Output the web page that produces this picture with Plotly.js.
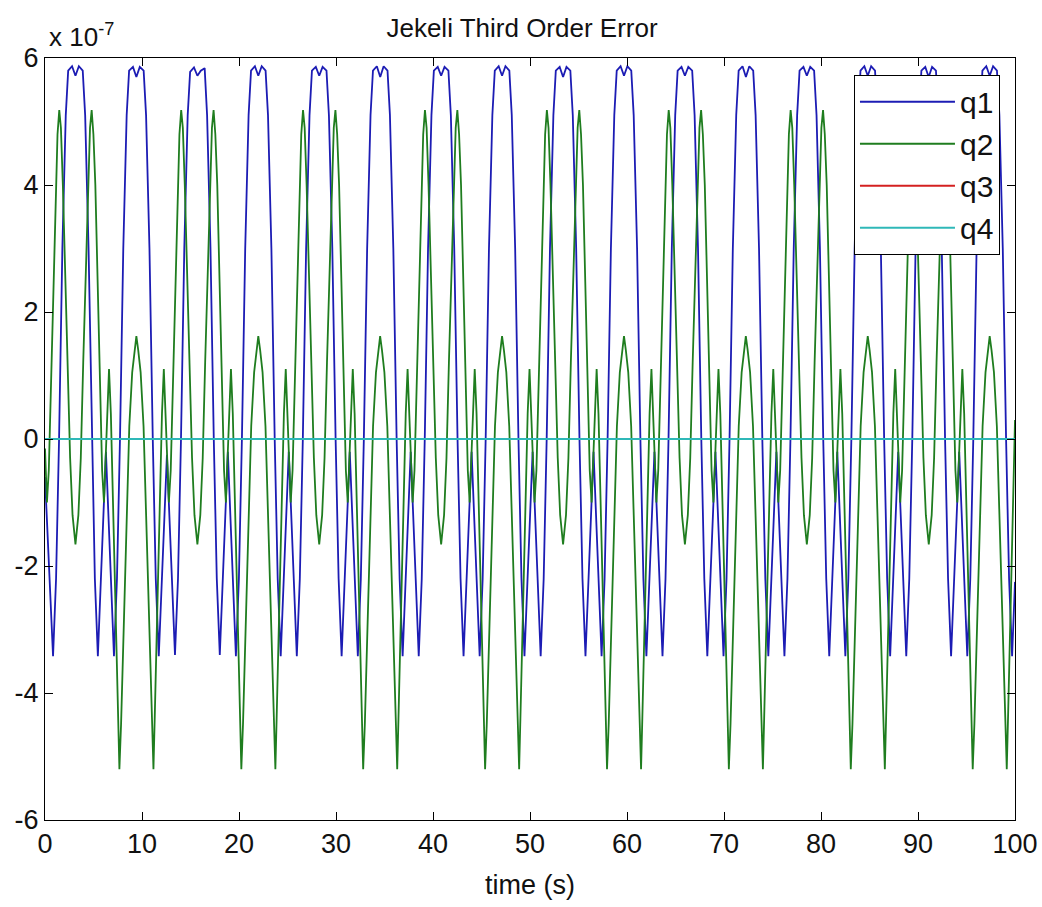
<!DOCTYPE html>
<html>
<head>
<meta charset="utf-8">
<script src="https://cdn.plot.ly/plotly-3.0.1.min.js"></script>
<style>html,body{margin:0;padding:0;background:#fff;}#chart{width:1042px;height:907px;}</style>
</head>
<body>
<div id="chart"></div>
<script>
// values are in units of 1e-7 (axis shows "x 10^-7")
const q1Time = [
0, 0.83, 1.14, 1.45, 1.79, 2.14, 2.39, 2.79, 3.14, 3.49, 3.89, 4.14, 4.49, 4.83, 5.14, 5.45,
6.28, 7.11, 7.42, 7.73, 8.07, 8.42, 8.67, 9.07, 9.42, 9.77, 10.17, 10.42, 10.77, 11.11, 11.42, 11.73,
12.57, 13.40, 13.71, 14.02, 14.36, 14.71, 14.96, 15.36, 15.71, 16.06, 16.46, 16.71, 17.06, 17.40, 17.71, 18.02,
18.85, 19.68, 19.99, 20.30, 20.64, 20.99, 21.24, 21.64, 21.99, 22.34, 22.74, 22.99, 23.34, 23.68, 23.99, 24.30,
25.13, 25.96, 26.27, 26.58, 26.92, 27.27, 27.52, 27.92, 28.27, 28.62, 29.02, 29.27, 29.62, 29.96, 30.27, 30.58,
31.42, 32.25, 32.56, 32.87, 33.21, 33.56, 33.81, 34.21, 34.56, 34.91, 35.31, 35.56, 35.91, 36.25, 36.56, 36.87,
37.70, 38.53, 38.84, 39.15, 39.49, 39.84, 40.09, 40.49, 40.84, 41.19, 41.59, 41.84, 42.19, 42.53, 42.84, 43.15,
43.98, 44.81, 45.12, 45.43, 45.77, 46.12, 46.37, 46.77, 47.12, 47.47, 47.87, 48.12, 48.47, 48.81, 49.12, 49.43,
50.27, 51.10, 51.41, 51.72, 52.06, 52.41, 52.66, 53.06, 53.41, 53.76, 54.16, 54.41, 54.76, 55.10, 55.41, 55.72,
56.55, 57.38, 57.69, 58.00, 58.34, 58.69, 58.94, 59.34, 59.69, 60.04, 60.44, 60.69, 61.04, 61.38, 61.69, 62.00,
62.83, 63.66, 63.97, 64.28, 64.62, 64.97, 65.22, 65.62, 65.97, 66.32, 66.72, 66.97, 67.32, 67.66, 67.97, 68.28,
69.12, 69.95, 70.26, 70.57, 70.91, 71.26, 71.51, 71.91, 72.26, 72.61, 73.01, 73.26, 73.61, 73.95, 74.26, 74.57,
75.40, 76.23, 76.54, 76.85, 77.19, 77.54, 77.79, 78.19, 78.54, 78.89, 79.29, 79.54, 79.89, 80.23, 80.54, 80.85,
81.68, 82.51, 82.82, 83.13, 83.47, 83.82, 84.07, 84.47, 84.82, 85.17, 85.57, 85.82, 86.17, 86.51, 86.82, 87.13,
87.96, 88.79, 89.10, 89.41, 89.75, 90.10, 90.35, 90.75, 91.10, 91.45, 91.85, 92.10, 92.45, 92.79, 93.10, 93.41,
94.25, 95.08, 95.39, 95.70, 96.04, 96.39, 96.64, 97.04, 97.39, 97.74, 98.14, 98.39, 98.74, 99.08, 99.39, 99.70,
100
];
const q1Value = [
-0.6, -3.42, -2.2, 0, 3.0, 5.1, 5.8, 5.87, 5.72, 5.87, 5.8, 5.1, 3.0, 0, -2.2, -3.42,
-0.2, -3.42, -2.2, 0, 3.0, 5.1, 5.8, 5.86, 5.7, 5.86, 5.8, 5.1, 3.0, 0, -2.2, -3.42,
-0.25, -3.4, -2.2, 0, 3.0, 5.1, 5.78, 5.85, 5.72, 5.8, 5.84, 5.1, 3.0, 0, -2.2, -3.4,
-0.2, -3.42, -2.2, 0, 3.0, 5.1, 5.8, 5.87, 5.72, 5.87, 5.8, 5.1, 3.0, 0, -2.2, -3.42,
-0.2, -3.42, -2.2, 0, 3.0, 5.1, 5.8, 5.86, 5.72, 5.86, 5.8, 5.1, 3.0, 0, -2.2, -3.42,
-0.2, -3.42, -2.2, 0, 3.0, 5.1, 5.8, 5.87, 5.7, 5.87, 5.8, 5.1, 3.0, 0, -2.2, -3.42,
-0.2, -3.42, -2.2, 0, 3.0, 5.1, 5.8, 5.86, 5.72, 5.86, 5.8, 5.1, 3.0, 0, -2.2, -3.42,
-0.2, -3.42, -2.2, 0, 3.0, 5.1, 5.8, 5.87, 5.72, 5.87, 5.8, 5.1, 3.0, 0, -2.2, -3.42,
-0.2, -3.42, -2.2, 0, 3.0, 5.1, 5.8, 5.86, 5.7, 5.86, 5.8, 5.1, 3.0, 0, -2.2, -3.42,
-0.2, -3.42, -2.2, 0, 3.0, 5.1, 5.8, 5.87, 5.72, 5.87, 5.8, 5.1, 3.0, 0, -2.2, -3.42,
-0.2, -3.42, -2.2, 0, 3.0, 5.1, 5.8, 5.86, 5.72, 5.86, 5.8, 5.1, 3.0, 0, -2.2, -3.42,
-0.2, -3.42, -2.2, 0, 3.0, 5.1, 5.8, 5.87, 5.7, 5.87, 5.8, 5.1, 3.0, 0, -2.2, -3.42,
-0.2, -3.42, -2.2, 0, 3.0, 5.1, 5.8, 5.86, 5.72, 5.86, 5.8, 5.1, 3.0, 0, -2.2, -3.42,
-0.2, -3.42, -2.2, 0, 3.0, 5.1, 5.8, 5.87, 5.72, 5.87, 5.8, 5.1, 3.0, 0, -2.2, -3.42,
-0.2, -3.42, -2.2, 0, 3.0, 5.1, 5.8, 5.86, 5.7, 5.86, 5.8, 5.1, 3.0, 0, -2.2, -3.42,
-0.2, -3.42, -2.2, 0, 3.0, 5.1, 5.8, 5.87, 5.72, 5.87, 5.8, 5.1, 3.0, 0, -2.2, -3.42,
-2.25
];
const q2Time = [
0, 0.20, 0.39, 0.59, 1.09, 1.29, 1.47, 1.64, 1.84, 2.34, 2.59, 2.84, 3.14, 3.44, 3.69, 3.94, 4.44, 4.64, 4.81, 4.99, 5.19, 5.69, 5.89, 6.08, 6.34, 6.60, 6.79, 7.39, 7.54, 7.67, 7.84, 8.44, 8.69, 8.99, 9.24, 9.42, 9.61, 9.86, 10.16, 10.41, 11.01, 11.18, 11.31, 11.46, 12.06, 12.25, 12.51,
12.57, 12.77, 12.96, 13.16, 13.66, 13.86, 14.04, 14.21, 14.41, 14.91, 15.16, 15.41, 15.71, 16.01, 16.26, 16.51, 17.01, 17.21, 17.38, 17.56, 17.76, 18.26, 18.46, 18.65, 18.91, 19.17, 19.36, 19.96, 20.11, 20.24, 20.41, 21.01, 21.26, 21.56, 21.81, 21.99, 22.18, 22.43, 22.73, 22.98, 23.58, 23.75, 23.88, 24.03, 24.63, 24.82, 25.08,
25.13, 25.33, 25.52, 25.72, 26.22, 26.42, 26.60, 26.77, 26.97, 27.47, 27.72, 27.97, 28.27, 28.57, 28.82, 29.07, 29.57, 29.77, 29.94, 30.12, 30.32, 30.82, 31.02, 31.21, 31.47, 31.73, 31.92, 32.52, 32.67, 32.80, 32.97, 33.57, 33.82, 34.12, 34.37, 34.55, 34.74, 34.99, 35.29, 35.54, 36.14, 36.31, 36.44, 36.59, 37.19, 37.38, 37.64,
37.70, 37.90, 38.09, 38.29, 38.79, 38.99, 39.17, 39.34, 39.54, 40.04, 40.29, 40.54, 40.84, 41.14, 41.39, 41.64, 42.14, 42.34, 42.51, 42.69, 42.89, 43.39, 43.59, 43.78, 44.04, 44.30, 44.49, 45.09, 45.24, 45.37, 45.54, 46.14, 46.39, 46.69, 46.94, 47.12, 47.31, 47.56, 47.86, 48.11, 48.71, 48.88, 49.01, 49.16, 49.76, 49.95, 50.21,
50.27, 50.47, 50.66, 50.86, 51.36, 51.56, 51.74, 51.91, 52.11, 52.61, 52.86, 53.11, 53.41, 53.71, 53.96, 54.21, 54.71, 54.91, 55.08, 55.26, 55.46, 55.96, 56.16, 56.35, 56.61, 56.87, 57.06, 57.66, 57.81, 57.94, 58.11, 58.71, 58.96, 59.26, 59.51, 59.69, 59.88, 60.13, 60.43, 60.68, 61.28, 61.45, 61.58, 61.73, 62.33, 62.52, 62.78,
62.83, 63.03, 63.22, 63.42, 63.92, 64.12, 64.30, 64.47, 64.67, 65.17, 65.42, 65.67, 65.97, 66.27, 66.52, 66.77, 67.27, 67.47, 67.64, 67.82, 68.02, 68.52, 68.72, 68.91, 69.17, 69.43, 69.62, 70.22, 70.37, 70.50, 70.67, 71.27, 71.52, 71.82, 72.07, 72.25, 72.44, 72.69, 72.99, 73.24, 73.84, 74.01, 74.14, 74.29, 74.89, 75.08, 75.34,
75.40, 75.60, 75.79, 75.99, 76.49, 76.69, 76.87, 77.04, 77.24, 77.74, 77.99, 78.24, 78.54, 78.84, 79.09, 79.34, 79.84, 80.04, 80.21, 80.39, 80.59, 81.09, 81.29, 81.48, 81.74, 82.00, 82.19, 82.79, 82.94, 83.07, 83.24, 83.84, 84.09, 84.39, 84.64, 84.82, 85.01, 85.26, 85.56, 85.81, 86.41, 86.58, 86.71, 86.86, 87.46, 87.65, 87.91,
87.97, 88.17, 88.36, 88.56, 89.06, 89.26, 89.44, 89.61, 89.81, 90.31, 90.56, 90.81, 91.11, 91.41, 91.66, 91.91, 92.41, 92.61, 92.78, 92.96, 93.16, 93.66, 93.86, 94.05, 94.31, 94.57, 94.76, 95.36, 95.51, 95.64, 95.81, 96.41, 96.66, 96.96, 97.21, 97.39, 97.58, 97.83, 98.13, 98.38, 98.98, 99.15, 99.28, 99.43,
100
];
const q2Value = [
-0.15, -1.0, -0.5, 0.7, 4.0, 4.8, 5.18, 4.9, 4.0, 1.2, -0.3, -1.2, -1.66, -1.2, -0.3, 1.2, 4.0, 4.9, 5.18, 4.8, 4.0, 0.7, -0.5, -1.0, 0.0, 1.1, 0.4, -3.4, -4.4, -5.2, -4.5, -1.2, 0.2, 1.05, 1.4, 1.62, 1.4, 1.05, 0.2, -1.2, -4.5, -5.2, -4.4, -3.4, 0.4, 1.1, 0.0,
-0.15, -1.0, -0.5, 0.7, 4.0, 4.8, 5.18, 4.9, 4.0, 1.2, -0.3, -1.2, -1.66, -1.2, -0.3, 1.2, 4.0, 4.9, 5.18, 4.8, 4.0, 0.7, -0.5, -1.0, 0.0, 1.1, 0.4, -3.4, -4.4, -5.2, -4.5, -1.2, 0.2, 1.05, 1.4, 1.62, 1.4, 1.05, 0.2, -1.2, -4.5, -5.2, -4.4, -3.4, 0.4, 1.1, 0.0,
-0.15, -1.0, -0.5, 0.7, 4.0, 4.8, 5.18, 4.9, 4.0, 1.2, -0.3, -1.2, -1.66, -1.2, -0.3, 1.2, 4.0, 4.9, 5.18, 4.8, 4.0, 0.7, -0.5, -1.0, 0.0, 1.1, 0.4, -3.4, -4.4, -5.2, -4.5, -1.2, 0.2, 1.05, 1.4, 1.62, 1.4, 1.05, 0.2, -1.2, -4.5, -5.2, -4.4, -3.4, 0.4, 1.1, 0.0,
-0.15, -1.0, -0.5, 0.7, 4.0, 4.8, 5.18, 4.9, 4.0, 1.2, -0.3, -1.2, -1.66, -1.2, -0.3, 1.2, 4.0, 4.9, 5.18, 4.8, 4.0, 0.7, -0.5, -1.0, 0.0, 1.1, 0.4, -3.4, -4.4, -5.2, -4.5, -1.2, 0.2, 1.05, 1.4, 1.62, 1.4, 1.05, 0.2, -1.2, -4.5, -5.2, -4.4, -3.4, 0.4, 1.1, 0.0,
-0.15, -1.0, -0.5, 0.7, 4.0, 4.8, 5.18, 4.9, 4.0, 1.2, -0.3, -1.2, -1.66, -1.2, -0.3, 1.2, 4.0, 4.9, 5.18, 4.8, 4.0, 0.7, -0.5, -1.0, 0.0, 1.1, 0.4, -3.4, -4.4, -5.2, -4.5, -1.2, 0.2, 1.05, 1.4, 1.62, 1.4, 1.05, 0.2, -1.2, -4.5, -5.2, -4.4, -3.4, 0.4, 1.1, 0.0,
-0.15, -1.0, -0.5, 0.7, 4.0, 4.8, 5.18, 4.9, 4.0, 1.2, -0.3, -1.2, -1.66, -1.2, -0.3, 1.2, 4.0, 4.9, 5.18, 4.8, 4.0, 0.7, -0.5, -1.0, 0.0, 1.1, 0.4, -3.4, -4.4, -5.2, -4.5, -1.2, 0.2, 1.05, 1.4, 1.62, 1.4, 1.05, 0.2, -1.2, -4.5, -5.2, -4.4, -3.4, 0.4, 1.1, 0.0,
-0.15, -1.0, -0.5, 0.7, 4.0, 4.8, 5.18, 4.9, 4.0, 1.2, -0.3, -1.2, -1.66, -1.2, -0.3, 1.2, 4.0, 4.9, 5.18, 4.8, 4.0, 0.7, -0.5, -1.0, 0.0, 1.1, 0.4, -3.4, -4.4, -5.2, -4.5, -1.2, 0.2, 1.05, 1.4, 1.62, 1.4, 1.05, 0.2, -1.2, -4.5, -5.2, -4.4, -3.4, 0.4, 1.1, 0.0,
-0.15, -1.0, -0.5, 0.7, 4.0, 4.8, 5.18, 4.9, 4.0, 1.2, -0.3, -1.2, -1.66, -1.2, -0.3, 1.2, 4.0, 4.9, 5.18, 4.8, 4.0, 0.7, -0.5, -1.0, 0.0, 1.1, 0.4, -3.4, -4.4, -5.2, -4.5, -1.2, 0.2, 1.05, 1.4, 1.62, 1.4, 1.05, 0.2, -1.2, -4.5, -5.2, -4.4, -3.4,
0.3
];
const q3Time = [0, 100];
const q3Value = [0, 0];
const q4Time = [0, 100];
const q4Value = [0, 0];

const seriesNames = ['q1', 'q2', 'q3', 'q4'];
const xTickVals = [0, 10, 20, 30, 40, 50, 60, 70, 80, 90, 100];
const yTickVals = [-6, -4, -2, 0, 2, 4, 6];
const yTickText = ['-6', '-4', '-2', '0', '2', '4', '6'];
const titleText = 'Jekeli Third Order Error';
const xTitleText = 'time (s)';
const exponentText = 'x 10<sup>-7</sup>';

if (q1Time.length !== q1Value.length || q2Time.length !== q2Value.length) {
  throw new Error('length mismatch q1 ' + q1Time.length + '/' + q1Value.length + ' q2 ' + q2Time.length + '/' + q2Value.length);
}

const FONT = 'Liberation Sans, Arial, Helvetica, sans-serif';
const colors = ['#1c1cb4', '#1f7d1f', '#d42020', '#2fb8b8'];

const traces = [
  {x: q1Time, y: q1Value, name: seriesNames[0]},
  {x: q2Time, y: q2Value, name: seriesNames[1]},
  {x: q3Time, y: q3Value, name: seriesNames[2]},
  {x: q4Time, y: q4Value, name: seriesNames[3]}
].map((t, i) => Object.assign(t, {type: 'scatter', mode: 'lines', line: {color: colors[i], width: 1.8}}));

const axisCommon = {
  showline: true, linecolor: '#000', linewidth: 1, mirror: 'ticks',
  ticks: 'inside', ticklen: 8, tickcolor: '#000', tickwidth: 1,
  showgrid: false, zeroline: false,
  tickfont: {family: FONT, size: 27, color: '#111'}
};

const layout = {
  width: 1042, height: 907,
  margin: {l: 45, r: 27, t: 58, b: 87},
  paper_bgcolor: '#fff', plot_bgcolor: '#fff',
  showlegend: true,
  title: {text: titleText, font: {family: FONT, size: 26, color: '#111'}, xref: 'container', x: 0.501, xanchor: 'center', yref: 'container', y: 0.969, yanchor: 'middle'},
  xaxis: Object.assign({}, axisCommon, {range: [0, 100], tickvals: xTickVals, ticktext: xTickVals.map(String),
    title: {text: xTitleText, font: {family: FONT, size: 27, color: '#111'}, standoff: 16}}),
  yaxis: Object.assign({}, axisCommon, {range: [-6, 6], tickvals: yTickVals, ticktext: yTickText}),
  legend: {x: 0.9845, xanchor: 'right', y: 0.978, yanchor: 'top', bgcolor: '#fff', bordercolor: '#000', borderwidth: 1,
    font: {family: FONT, size: 30, color: '#111'}, itemwidth: 95, tracegroupgap: 0},
  annotations: [{text: exponentText, xref: 'paper', yref: 'paper', x: 0, y: 1, xanchor: 'left', yanchor: 'bottom', xshift: 2, yshift: 4,
    showarrow: false, font: {family: FONT, size: 26, color: '#111'}}]
};

Plotly.newPlot('chart', traces, layout, {displayModeBar: false, staticPlot: true});
</script>
</body>
</html>
